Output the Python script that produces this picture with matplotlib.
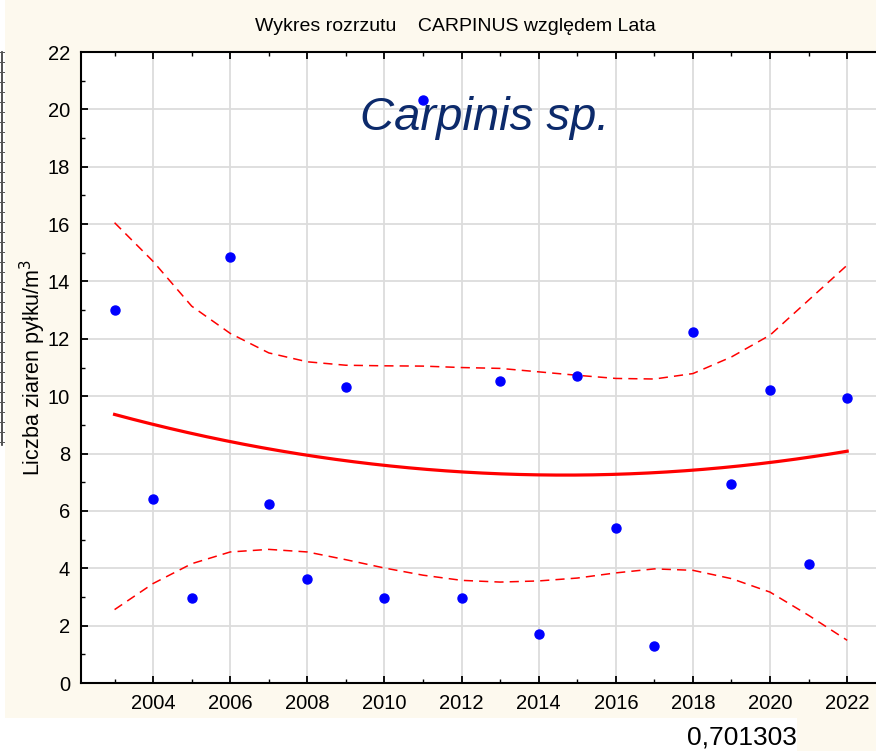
import matplotlib.pyplot as plt
import numpy as np
from matplotlib.lines import Line2D
from matplotlib.patches import Rectangle
from matplotlib.ticker import MultipleLocator

plt.rcParams['font.family'] = ['Liberation Sans', 'DejaVu Sans']

years = np.arange(2003, 2023)
carpinus = [13.0, 6.42, 2.96, 14.85, 6.24, 3.63, 10.32, 2.96, 20.33, 2.96,
            10.53, 1.71, 10.70, 5.40, 1.29, 12.24, 6.94, 10.22, 4.15, 9.94]
# granice przedzialu ufnosci
upper = [16.05, 14.7, 13.14, 12.19, 11.51, 11.2, 11.08, 11.06, 11.05, 11.0,
         10.97, 10.85, 10.73, 10.62, 10.6, 10.79, 11.37, 12.13, 13.35, 14.57]
lower = [2.56, 3.47, 4.16, 4.57, 4.66, 4.57, 4.3, 4.01, 3.76, 3.58,
         3.52, 3.56, 3.66, 3.84, 3.98, 3.93, 3.64, 3.17, 2.36, 1.49]

cream = '#fdf9ee'
fig = plt.figure(figsize=(8.76, 7.51), dpi=100, facecolor=cream)
ax = fig.add_axes([0.0925, 0.0905, 0.9186, 0.8402])
ax.set_facecolor('white')

# dopasowanie wielomianem 2 stopnia
coef = np.polyfit(years, carpinus, 2)
xs = np.linspace(years[0], years[-1], 200)
ax.plot(xs, np.polyval(coef, xs), color='#ff0000', lw=2.3, zorder=3)
ax.plot(years, upper, color='#ff0000', lw=1.1, ls=(0, (6, 4)), zorder=3)
ax.plot(years, lower, color='#ff0000', lw=1.1, ls=(0, (6, 4)), zorder=3)
ax.plot(years, carpinus, 'o', color='#0000ff', ms=6.5, mec='#0000ff', zorder=4)

ax.set_xlim(2002.13, 2023.0)
ax.set_ylim(0, 22)
ax.xaxis.set_major_locator(MultipleLocator(2))
ax.xaxis.set_minor_locator(MultipleLocator(1))
ax.yaxis.set_major_locator(MultipleLocator(2))
ax.yaxis.set_minor_locator(MultipleLocator(1))
ax.grid(True, which='major', color='#dcdcdc', lw=1.3, zorder=0)
ax.set_axisbelow(True)
ax.tick_params(which='both', direction='in', top=True, right=False,
               labelsize=14.5, colors='black', pad=8)
ax.tick_params(which='major', length=5, width=1.3)
ax.tick_params(which='minor', length=3, width=1.0)
for s in ['left', 'top', 'bottom']:
    ax.spines[s].set_linewidth(1.5)
ax.spines['right'].set_visible(False)

ax.set_ylabel('Liczba ziaren pyłku/m$^3$', fontsize=15.5, labelpad=0)
fig.text(0.52, 0.965, 'Wykres rozrzutu    CARPINUS względem Lata',
         ha='center', va='center', fontsize=14)
ax.text(0.502, 0.895, 'Carpinis sp.', transform=ax.transAxes, ha='center',
        va='center', fontsize=34, style='italic', color='#0c2a6b')

# dolny pasek z wartoscia
fig.add_artist(Rectangle((0, 0), 797 / 876, 33 / 751, transform=fig.transFigure,
                         facecolor='white', edgecolor='none', zorder=0))
fig.add_artist(Rectangle((0, 0), 5 / 876, 1, transform=fig.transFigure,
                         facecolor='white', edgecolor='none', zorder=0))
fig.text(797 / 876, 14 / 751, '0,701303', ha='right', va='center', fontsize=19)

# fragment linijki z lewej strony
fig.add_artist(Line2D([2 / 876, 2 / 876], [1 - 52 / 751, 1 - 445 / 751],
                      transform=fig.transFigure, color='#333333', lw=1.2))
for yy in np.arange(52, 446, 10):
    fig.add_artist(Line2D([0, 4 / 876], [1 - yy / 751, 1 - yy / 751],
                          transform=fig.transFigure, color='#555555', lw=0.7))

fig.savefig('out.png', dpi=100, facecolor=cream)
